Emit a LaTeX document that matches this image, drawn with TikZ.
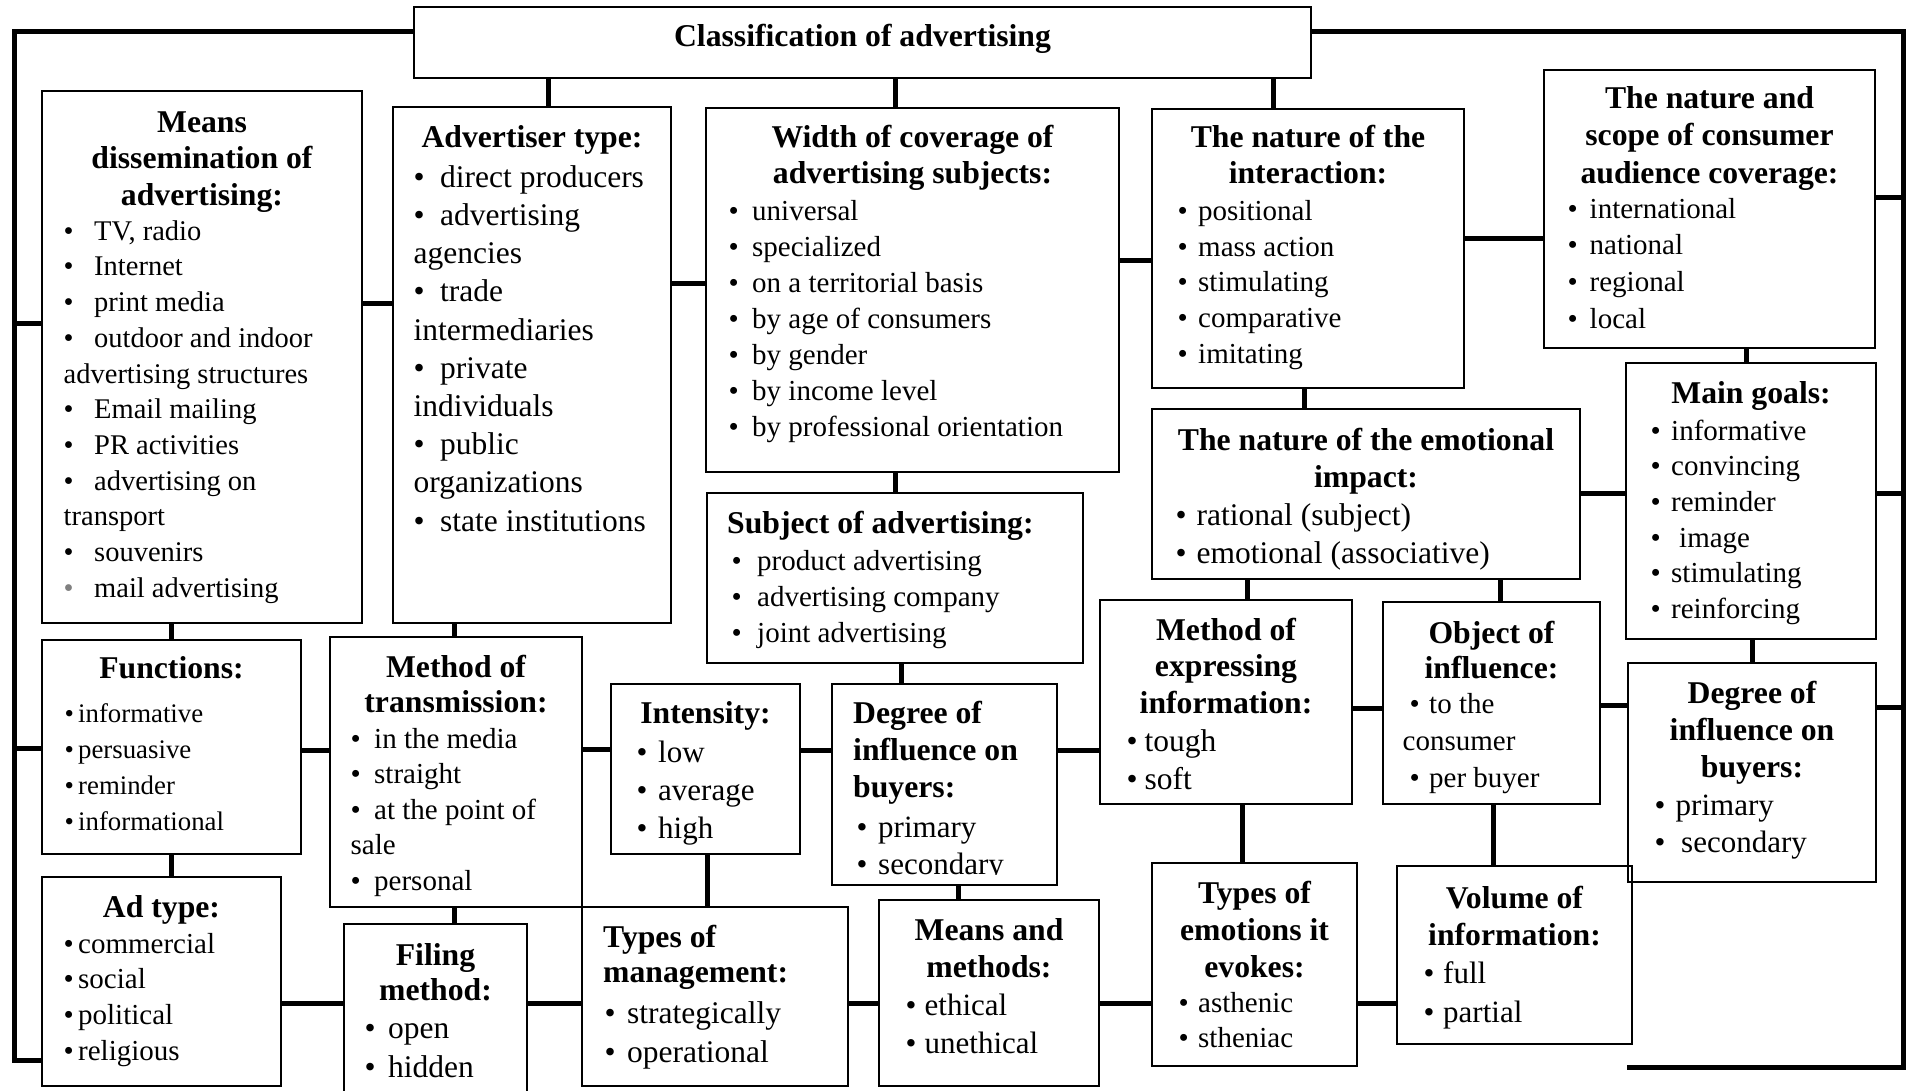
\documentclass[tikz,border=0pt]{standalone}
\usepackage{fontspec}
\setmainfont{Liberation Serif}
\usetikzlibrary{calc}

\newcommand\fz[2]{\fontsize{#1}{#2}\selectfont}
\def\bw{20pt}
\newcommand\bu{\makebox[\bw][l]{•}}
\newcommand\gbu{\makebox[\bw][l]{\textcolor{gray}{•}}}

\tikzset{
  box/.style={draw, line width=2.7pt, inner sep=0pt},
  link/.style={line width=5pt},
  bw/.code={\def\bw{#1pt}},
  hd/.style={align=center, anchor=north, inner sep=0pt},
  hdl/.style={align=left, anchor=north west, inner sep=0pt},
  items/.style={align=left, anchor=north west, inner sep=0pt},
}

% rectangle node from its corners (x1,y1)-(x2,y2)
\newcommand\panel[5]{\node[box, minimum width={#4-#2}, minimum height={#5-#3}] (#1) at ({(#2+#4)/2},{(#3+#5)/2}) {};}
% centred bold heading: name, centre x, first baseline, leading, text
\newcommand\heading[5]{\node[hd, font=\fz{31.7}{#4}\bfseries] (#1) at (#2,{#3-0.7*#4}) {\strut #5};}
% left aligned bold heading
\newcommand\headingL[5]{\node[hdl, font=\fz{31.7}{#4}\bfseries] (#1) at (#2,{#3-0.7*#4}) {\strut #5};}
% bullet list: name, left x, first baseline, size, leading, bullet width, text
\newcommand\itemlist[7]{\node[items, font=\fz{#4}{#5}, bw=#6] (#1) at (#2,{#3-0.7*#5}) {\strut #7};}
% connectors
\newcommand\vlink[3]{\draw[link] (#1.south -| #3,0) -- (#2.north -| #3,0);}
\newcommand\hlink[3]{\draw[link] (#1.east |- 0,#3) -- (#2.west |- 0,#3);}

\begin{document}
\begin{tikzpicture}[x=1pt,y=-1pt]
\useasboundingbox (0,0) rectangle (1910,1091);
\fill[white] (0,0) rectangle (1910,1091);
\clip (0,0) rectangle (1910,1091);

% boxes
\panel{title}{414}{7}{1311}{78}
\panel{means}{42}{91}{362}{623}
\panel{adv}{393}{107}{671}{623}
\panel{width}{706}{108}{1119}{472}
\panel{inter}{1152}{109}{1464}{388}
\panel{scope}{1544}{70}{1875}{348}
\panel{goals}{1626}{363}{1876}{639}
\panel{emo}{1152}{409}{1580}{579}
\panel{expr}{1100}{600}{1352}{804}
\panel{obj}{1383}{602}{1600}{804}
\panel{degR}{1628}{663}{1876}{882}
\panel{vol}{1397}{866}{1632}{1044}
\panel{temo}{1152}{863}{1357}{1066}
\panel{mm}{879}{900}{1099}{1086}
\panel{degM}{832}{684}{1057}{885}
\panel{subj}{707}{493}{1083}{663}
\panel{inten}{611}{684}{800}{854}
\panel{trans}{330}{637}{582}{907}
\panel{func}{42}{640}{301}{854}
\panel{adtype}{42}{877}{281}{1086}
\panel{filing}{344}{924}{527}{1100}
\panel{mgmt}{582}{907}{848}{1086}

% texts
\node[inner sep=0pt, anchor=base, font=\fz{31.7}{36}\bfseries] (title-t) at (862.5,47) {Classification of advertising};

\heading{means-h}{202}{132}{36.5}{Means\\dissemination of\\advertising:}
\itemlist{means-i}{63.5}{240}{28.5}{35.7}{30.5}{\bu TV, radio\\\bu Internet\\\bu print media\\\bu outdoor and indoor\\advertising structures\\\bu Email mailing\\\bu PR activities\\\bu advertising on\\transport\\\bu souvenirs\\\gbu mail advertising}

\heading{adv-h}{532}{147}{38}{Advertiser type:}
\itemlist{adv-i}{413.5}{187}{31.5}{38.2}{26.5}{\bu direct producers\\\bu advertising\\agencies\\\bu trade\\intermediaries\\\bu private\\individuals\\\bu public\\organizations\\\bu state institutions}

\heading{width-h}{912.5}{147}{36}{Width of coverage of\\advertising subjects:}
\itemlist{width-i}{728.5}{220}{29}{36}{23.5}{\bu universal\\\bu specialized\\\bu on a territorial basis\\\bu by age of consumers\\\bu by gender\\\bu by income level\\\bu by professional orientation}

\heading{inter-h}{1308}{147}{36}{The nature of the\\interaction:}
\itemlist{inter-i}{1177.5}{220}{29}{35.8}{20.5}{\bu positional\\\bu mass action\\\bu stimulating\\\bu comparative\\\bu imitating}

\heading{scope-h}{1709.5}{108}{37.5}{The nature and\\scope of consumer\\audience coverage:}
\itemlist{scope-i}{1567.5}{218}{29}{36.7}{22}{\bu international\\\bu national\\\bu regional\\\bu local}

\heading{goals-h}{1751}{403}{36}{Main goals:}
\itemlist{goals-i}{1650.5}{440}{29}{35.6}{20.5}{\bu informative\\\bu convincing\\\bu reminder\\\bu\hspace*{8pt}image\\\bu stimulating\\\bu reinforcing}

\heading{emo-h}{1366}{450}{37}{The nature of the emotional\\impact:}
\itemlist{emo-i}{1175.5}{525}{31.5}{38}{21}{\bu rational (subject)\\\bu emotional (associative)}

\heading{expr-h}{1226}{640}{36.5}{Method of\\expressing\\information:}
\itemlist{expr-i}{1126.5}{751}{31.5}{38.5}{18}{\bu tough\\\bu soft}

\heading{obj-h}{1491.5}{643}{35}{Object of\\influence:}
\itemlist{obj-i}{1402.5}{713}{29}{37}{19.5}{\hspace*{7pt}\bu to the\\consumer\\\hspace*{7pt}\bu per buyer}

\heading{degR-h}{1752}{703}{37}{Degree of\\influence on\\buyers:}
\itemlist{degR-i}{1654.5}{815}{31}{37}{21}{\bu primary\\\bu\hspace*{5.5pt}secondary}

\heading{vol-h}{1514.5}{908}{37}{Volume of\\information:}
\itemlist{vol-i}{1423.5}{983}{31}{39}{19.5}{\bu full\\\bu partial}

\heading{temo-h}{1254.5}{903}{37}{Types of\\emotions it\\evokes:}
\itemlist{temo-i}{1178.5}{1012}{29}{35}{19.5}{\bu asthenic\\\bu stheniac}

\heading{mm-h}{989}{940}{37}{Means and\\methods:}
\itemlist{mm-i}{905.5}{1015}{31}{38}{19}{\bu ethical\\\bu unethical}

\headingL{degM-h}{853}{723}{37}{Degree of\\influence on\\buyers:}
\begin{scope}
  % the last line is cut off by the frame of its box
  \clip (832,684) rectangle (1057,874);
  \itemlist{degM-i}{856.5}{837}{31}{37}{21.5}{\bu primary\\\bu secondary}
\end{scope}

\headingL{subj-h}{727}{533}{36}{Subject of advertising:}
\itemlist{subj-i}{731.5}{570}{29}{36}{25.5}{\bu product advertising\\\bu advertising company\\\bu joint advertising}

\heading{inten-h}{705.5}{723}{38}{Intensity:}
\itemlist{inten-i}{636.5}{762}{31}{38}{21.5}{\bu low\\\bu average\\\bu high}

\heading{trans-h}{456}{677}{35}{Method of\\transmission:}
\itemlist{trans-i}{350.5}{748}{29}{35.5}{23.5}{\bu in the media\\\bu straight\\\bu at the point of\\sale\\\bu personal}

\heading{func-h}{171.5}{678}{36}{Functions:}
\itemlist{func-i}{64.5}{722}{26.8}{36}{13.5}{\bu informative\\\bu persuasive\\\bu reminder\\\bu informational}

\heading{adtype-h}{161.5}{917}{36}{Ad type:}
\itemlist{adtype-i}{63.5}{953}{29}{35.7}{14.5}{\bu commercial\\\bu social\\\bu political\\\bu religious}

\heading{filing-h}{435.5}{965}{35}{Filing\\method:}
\itemlist{filing-i}{364.5}{1038}{31.5}{39}{23.5}{\bu open\\\bu hidden}

\headingL{mgmt-h}{603}{947}{35}{Types of\\management:}
\itemlist{mgmt-i}{604.5}{1023}{31.5}{39}{22.5}{\bu strategically\\\bu operational}

% vertical connectors
\vlink{title}{adv}{548}
\vlink{title}{width}{895}
\vlink{title}{inter}{1273}
\vlink{scope}{goals}{1746}
\vlink{inter}{emo}{1304}
\vlink{emo}{expr}{1247}
\vlink{emo}{obj}{1500}
\vlink{goals}{degR}{1752}
\vlink{obj}{vol}{1493}
\vlink{expr}{temo}{1242}
\vlink{degM}{mm}{958}
\vlink{subj}{degM}{901}
\vlink{width}{subj}{895}
\vlink{adv}{trans}{454}
\vlink{means}{func}{171}
\vlink{func}{adtype}{171}
\vlink{trans}{filing}{454}
\vlink{inten}{mgmt}{707}

% horizontal connectors
\hlink{means}{adv}{303}
\hlink{adv}{width}{283}
\hlink{width}{inter}{261}
\hlink{inter}{scope}{239}
\hlink{emo}{goals}{493}
\hlink{expr}{obj}{708}
\hlink{obj}{degR}{705}
\hlink{temo}{vol}{1003}
\hlink{mm}{temo}{1003}
\hlink{degM}{expr}{750}
\hlink{inten}{degM}{750}
\hlink{trans}{inten}{749}
\hlink{func}{trans}{750}
\hlink{adtype}{filing}{1003}
\hlink{filing}{mgmt}{1003}
\hlink{mgmt}{mm}{1003}

% outer frame lines
\coordinate (ftl) at (14,32);
\coordinate (fbl) at (14,1060);
\coordinate (ftr) at (1903,32);
\coordinate (fbr) at (1903,1067);
\coordinate (fend) at (1627,1067);
\draw[link] (title.west |- ftl) -- (ftl) -- (fbl) -- (adtype.west |- fbl);
\draw[link] (ftl |- 0,323) -- (means.west |- 0,323);
\draw[link] (ftl |- 0,748) -- (func.west |- 0,748);
\draw[link] (title.east |- ftr) -- (ftr) -- (fbr) -- (fend);
\draw[link] (scope.east |- 0,198) -- (ftr |- 0,198);
\draw[link] (goals.east |- 0,493) -- (ftr |- 0,493);
\draw[link] (degR.east |- 0,707) -- (ftr |- 0,707);
\end{tikzpicture}
\end{document}
